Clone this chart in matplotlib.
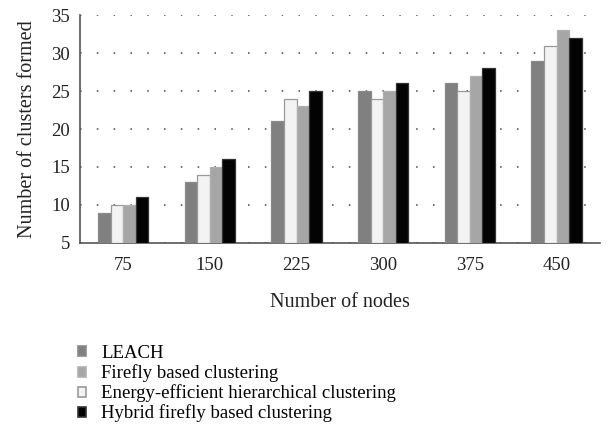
import numpy as np
import matplotlib.pyplot as plt
from matplotlib.patches import Patch

plt.rcParams['font.family'] = ['Liberation Serif', 'DejaVu Serif']

# Data
nodes = ['75', '150', '225', '300', '375', '450']
leach = [9, 13, 21, 25, 26, 29]
energy_eff = [10, 14, 24, 24, 25, 31]
firefly = [10, 15, 23, 25, 27, 33]
hybrid = [11, 16, 25, 26, 28, 32]

series = [
    ('LEACH', leach, '#808080', '#8a8a8a'),
    ('Energy-efficient hierarchical clustering', energy_eff, '#f2f3f2', '#999999'),
    ('Firefly based clustering', firefly, '#a6a6a6', '#b0b0b0'),
    ('Hybrid firefly based clustering', hybrid, '#030303', '#333333'),
]

fig = plt.figure(figsize=(6.14, 4.33), dpi=100)
ax = fig.add_axes([0.130, 0.439, 0.847, 0.526])

x = np.arange(len(nodes))
width = 0.145
offsets = (np.arange(len(series)) - 1.5) * width
for (name, vals, fc, ec), off in zip(series, offsets):
    ax.bar(x + off, np.array(vals) - 5, width, bottom=5, color=fc,
           edgecolor=ec, linewidth=0.9, zorder=3, label=name)

ax.set_xlim(-0.5, len(nodes) - 0.5)
ax.set_ylim(5, 35)
ax.set_yticks(range(5, 36, 5))
ax.set_xticks(x)
ax.set_xticklabels(nodes)
ax.tick_params(length=0, labelsize=13.5, colors='#222222')
ax.tick_params(axis='x', pad=10)
ax.tick_params(axis='y', pad=7)
ax.yaxis.grid(True, linestyle=(0, (1, 10)), color='#444444', linewidth=1.1)
ax.set_axisbelow(True)
for s in ['top', 'right']:
    ax.spines[s].set_visible(False)
for s in ['left', 'bottom']:
    ax.spines[s].set_color('#555555')
    ax.spines[s].set_linewidth(1.2)

ax.set_xlabel('Number of nodes', fontsize=14.5, labelpad=14, color='#222222')
ax.set_ylabel('Number of clusters formed', fontsize=14.5, labelpad=10, color='#222222')

# legend order differs from bar order
lookup = {s[0]: s for s in series}
order = ['LEACH', 'Firefly based clustering',
         'Energy-efficient hierarchical clustering', 'Hybrid firefly based clustering']
handles = [Patch(facecolor=lookup[n][2], edgecolor=lookup[n][3], linewidth=1.2) for n in order]
fig.legend(handles, order, loc='upper left', bbox_to_anchor=(0.127, 0.203),
           frameon=False, fontsize=13.5, handlelength=0.45, handleheight=0.45,
           handletextpad=0.8, labelspacing=0.12, borderpad=0, borderaxespad=0)

fig.savefig('out.png', dpi=100)
